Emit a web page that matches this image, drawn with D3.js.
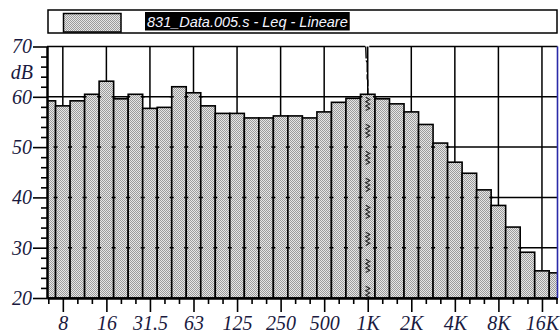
<!DOCTYPE html>
<html>
<head>
<meta charset="utf-8">
<script src="https://cdn.jsdelivr.net/npm/d3@7"></script>
<style>
  html, body { margin: 0; padding: 0; background: #fff; }
  svg { display: block; }
</style>
</head>
<body>
<svg id="chart" width="560" height="334"></svg>
<script>
// 1/3-octave band centre frequencies (nominal)
const bands = ["6.3","8","10","12.5","16","20","25","31.5","40","50","63","80",
  "100","125","160","200","250","315","400","500","630","800","1K","1.25K",
  "1.6K","2K","2.5K","3.15K","4K","5K","6.3K","8K","10K","12.5K","16K","20K"];

// Leq per band, dB (linear weighting)
const leq = [59.2, 58.2, 59.2, 60.5, 63.1, 59.6, 60.5, 57.7, 57.9, 62.0, 60.8, 58.2,
  56.7, 56.7, 55.8, 55.8, 56.2, 56.2, 55.8, 57.0, 58.9, 59.7, 60.5, 59.6,
  58.6, 57.0, 54.5, 50.8, 47.0, 44.8, 41.5, 38.4, 34.1, 29.1, 25.4, 25.0];

// octave bands that carry a label on the frequency axis
const octaveBands = ["8","16","31.5","63","125","250","500","1K","2K","4K","8K","16K"];
const octaveLabels = ["8","16","31.5","63","125","250","500","1K","2K","4K","8K","16K"];

// level axis
const yMajor = [20, 30, 40, 50, 60, 70];
const yUnit = "dB";

const seriesName = "831_Data.005.s - Leq - Lineare";
const cursorBand = "1K";

const svg = d3.select("#chart");
const ink = "#1a1a40";
const serif = "'Liberation Serif', 'Times New Roman', serif";

const plot = { left: 47, right: 557.5, top: 46.5, bottom: 298 };

// band index -> px (each band is one third of an octave)
const x = d3.scaleLinear().domain([-0.09, 35.07]).range([plot.left, plot.right]);
const y = d3.scaleLinear().domain([20, 70]).range([plot.bottom, plot.top]);
const idx = b => bands.indexOf(b);

// stippled fill
const defs = svg.append("defs");
const pat = defs.append("pattern").attr("id", "stipple")
  .attr("patternUnits", "userSpaceOnUse").attr("width", 2).attr("height", 2);
pat.append("rect").attr("width", 2).attr("height", 2).attr("fill", "#e6e6e6");
pat.append("rect").attr("x", 0).attr("y", 0).attr("width", 1).attr("height", 1).attr("fill", "#9c9c9c");
pat.append("rect").attr("x", 1).attr("y", 1).attr("width", 1).attr("height", 1).attr("fill", "#9c9c9c");

defs.append("clipPath").attr("id", "plotClip").append("rect")
  .attr("x", plot.left).attr("y", plot.top - 2)
  .attr("width", plot.right - plot.left).attr("height", plot.bottom - plot.top + 2);

// ---- grid ----
const grid = svg.append("g").attr("stroke", "#000").attr("stroke-width", 1.5);
const cx = x(idx(cursorBand));
// top border, interrupted where the cursor enters
grid.append("line").attr("x1", plot.left).attr("x2", cx - 2.5)
  .attr("y1", y(70)).attr("y2", y(70));
grid.append("line").attr("x1", cx + 1.5).attr("x2", plot.right)
  .attr("y1", y(70)).attr("y2", y(70));
grid.selectAll("line.h").data(yMajor.filter(v => v > 20 && v < 70)).join("line")
  .attr("class", "h")
  .attr("x1", plot.left).attr("x2", plot.right)
  .attr("y1", d => y(d)).attr("y2", d => y(d));
grid.selectAll("line.v").data(octaveBands).join("line")
  .attr("class", "v")
  .attr("x1", d => x(idx(d))).attr("x2", d => x(idx(d)))
  .attr("y1", plot.top).attr("y2", plot.bottom);

// ---- bars ----
const barsG = svg.append("g").attr("clip-path", "url(#plotClip)");
barsG.selectAll("rect").data(leq).join("rect")
  .attr("x", (d, i) => x(i - 0.5))
  .attr("width", (d, i) => x(i + 0.5) - x(i - 0.5))
  .attr("y", d => y(d))
  .attr("height", d => y(20) - y(d))
  .attr("fill", "url(#stipple)")
  .attr("stroke", "#000")
  .attr("stroke-width", 1.6);

// grid nicks where the level lines pass behind the bar edges
const nicks = [];
for (let i = 0; i < leq.length - 1; i++) {
  const top = Math.max(leq[i], leq[i + 1]);
  yMajor.filter(g => g > 20 && g < 70 && g < top - 0.3)
    .forEach(g => nicks.push({ e: i + 0.5, g }));
}
barsG.append("g").selectAll("line").data(nicks).join("line")
  .attr("x1", d => x(d.e) - 2).attr("x2", d => x(d.e) + 2)
  .attr("y1", d => y(d.g)).attr("y2", d => y(d.g))
  .attr("stroke", "#000").attr("stroke-width", 1.5);

// ---- cursor on the 1 kHz band ----
const cv = leq[idx(cursorBand)];
svg.append("path")
  .attr("d", `M${cx - 2},${y(70)} L${cx - 1.5},${y(70) + 14} L${cx - 0.5},${y(70) + 16} L${cx - 0.5},${y(70) + 32} L${cx},${y(70) + 34} L${cx},${y(cv)}`)
  .attr("fill", "none").attr("stroke", "#000").attr("stroke-width", 1.4)
  .attr("stroke-dasharray", "12,2");
// zigzag marker groups running down the cursor band
const zzG = svg.append("g").attr("fill", "none").attr("stroke", "#222").attr("stroke-width", 1.1);
for (let y0 = y(cv) + 3; y0 < y(20) - 8; y0 += 27) {
  const pts = [];
  for (let k = 0; k <= 6; k++) pts.push([cx + (k % 2 ? 2 : -2), y0 + k * 2.2]);
  zzG.append("path").attr("d", d3.line()(pts));
}

// ---- axes ----
function styleAxis(g) {
  g.select(".domain").attr("stroke", "#000").attr("stroke-width", 2);
  g.selectAll(".tick line").attr("stroke", "#000").attr("stroke-width", 1.6);
  g.selectAll(".tick text")
    .attr("fill", ink).attr("font-family", serif)
    .attr("font-style", "italic").attr("font-size", "20px");
}

svg.append("g").attr("transform", `translate(${plot.left},0)`)
  .call(d3.axisLeft(y).tickValues(d3.range(22, 70, 2).filter(v => v % 10))
    .tickSize(6).tickSizeOuter(0).tickFormat(""))
  .call(styleAxis);
svg.append("g").attr("transform", `translate(${plot.left},0)`)
  .call(d3.axisLeft(y).tickValues(yMajor).tickSize(14).tickSizeOuter(0)
    .tickPadding(1).tickFormat(d3.format("d")))
  .call(styleAxis);
svg.append("text")
  .attr("x", plot.left - 14).attr("y", y(65)).attr("dy", "0.38em")
  .attr("text-anchor", "end")
  .attr("fill", ink).attr("font-family", serif)
  .attr("font-style", "italic").attr("font-size", "20px")
  .text(yUnit);

svg.append("g").attr("transform", `translate(0,${plot.bottom})`)
  .call(d3.axisBottom(x).tickValues(d3.range(bands.length).filter(i => !octaveBands.includes(bands[i])))
    .tickSize(6).tickSizeOuter(0).tickFormat(""))
  .call(styleAxis);
svg.append("g").attr("transform", `translate(0,${plot.bottom})`)
  .call(d3.axisBottom(x).tickValues(octaveBands.map(idx))
    .tickSize(14).tickSizeOuter(0).tickPadding(4)
    .tickFormat((d, i) => octaveLabels[i]))
  .call(styleAxis);

// right frame edge
svg.append("line")
  .attr("x1", plot.right).attr("x2", plot.right)
  .attr("y1", plot.top).attr("y2", plot.bottom)
  .attr("stroke", "#2a2aa8").attr("stroke-width", 1.6);

// ---- legend ----
const leg = svg.append("g");
leg.append("rect").attr("x", 48).attr("y", 10).attr("width", 509).attr("height", 23)
  .attr("fill", "#fff").attr("stroke", "#000").attr("stroke-width", 1.5);
leg.append("rect").attr("x", 63.5).attr("y", 13.5).attr("width", 57.5).attr("height", 18.5)
  .attr("fill", "url(#stipple)").attr("stroke", "#000").attr("stroke-width", 1.5);
const hl = leg.append("rect").attr("fill", "#000");
const lt = leg.append("text")
  .attr("x", 147).attr("y", 26.5)
  .attr("font-family", "'Liberation Sans', Arial, sans-serif")
  .attr("font-style", "italic").attr("font-size", "14.5px")
  .attr("fill", "#f4f4ff")
  .text(seriesName);
const bb = lt.node().getBBox();
hl.attr("x", bb.x - 2).attr("y", 12).attr("width", bb.width + 4).attr("height", 18.5);
</script>
</body>
</html>
